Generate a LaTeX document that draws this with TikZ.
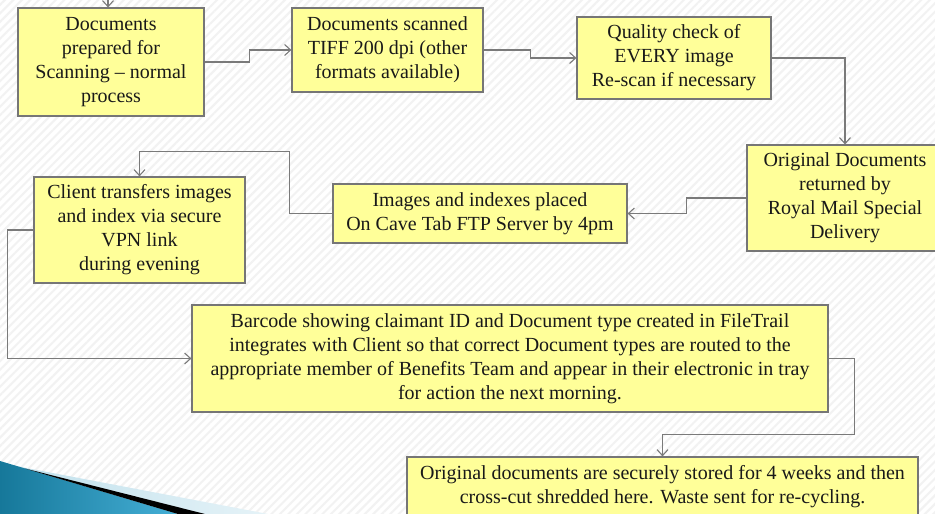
\documentclass[tikz,border=0pt]{standalone}
\usepackage{fontspec}
\setmainfont{Liberation Serif}
\usetikzlibrary{calc,patterns.meta,arrows.meta}
\definecolor{boxyellow}{HTML}{FFFF99}
\definecolor{boxline}{HTML}{767676}
\definecolor{swoosha}{HTML}{16789A}
\definecolor{swooshb}{HTML}{45AFD6}
\definecolor{swooshc}{HTML}{BFE0EC}
\tikzset{
	stepbox/.style={draw=boxline, line width=1.2pt, fill=boxyellow, align=center, inner sep=3pt, font=\fontsize{20}{24}\selectfont, text=black!90},
	flow/.style={draw=black!52, line width=1.3pt, -{Straight Barb[length=6pt, width=11pt, line width=1.1pt]}},
}

\begin{document}
\begin{tikzpicture}[x=1pt, y=-1pt]
		%%%%% START %%%%%
		\useasboundingbox (0, 0) rectangle (935, 514);
		\clip (0, 0) rectangle (935, 514);
		
		% striped slide background
		\fill[white] (0, 0) rectangle (935, 514);
		\fill[pattern={Lines[angle=45, distance=6pt, line width=2pt]}, pattern color=black!5] (0, 0) rectangle (935, 514);
		
		% swoosh in the corner
		\shade[left color=swooshc, right color=swooshc!40] (0, 463) -- (268, 514) -- (0, 514) -- cycle;
		\shade[left color=swoosha, right color=swooshb] (0, 461) -- (178, 514) -- (0, 514) -- cycle;
		\fill[black] (25, 468.5) -- (205, 514) -- (178, 514) -- cycle;
		
		% the steps
		\node[stepbox, minimum width=186, minimum height=108] (prep) at (111, 62) {Documents\\prepared for\\Scanning -- normal\\process};
		\node[stepbox, minimum width=191, minimum height=84] (scan) at (387.5, 50) {Documents scanned\\TIFF 200 dpi (other\\formats available)};
		\node[stepbox, minimum width=194, minimum height=82] (check) at (674, 58) {Quality check of\\EVERY image\\Re-scan if necessary};
		\node[stepbox, minimum width=196, minimum height=106] (returned) at (845, 198) {Original Documents\\returned by\\Royal Mail Special\\Delivery};
		\node[stepbox, minimum width=294, minimum height=59] (placed) at (480, 213.5) {Images and indexes placed\\On Cave Tab FTP Server by 4pm};
		\node[stepbox, minimum width=211, minimum height=106] (client) at (139.5, 230) {Client transfers images\\and index via secure\\VPN link\\during evening};
		\node[stepbox, minimum width=636, minimum height=107] (barcode) at (510, 358.5) {Barcode showing claimant ID and Document type created in FileTrail\\integrates with Client so that correct Document types are routed to the\\appropriate member of Benefits Team and appear in their electronic in tray\\for action the next morning.};
		\node[stepbox, minimum width=511, minimum height=60] (stored) at (662.5, 487) {Original documents are securely stored for 4 weeks and then\\cross-cut shredded here. Waste sent for re-cycling.};
		
		% connectors
		\coordinate (fromabove) at (108, -6);
		\draw[flow] (fromabove) -- (prep.north -| fromabove);
		\draw[flow] (prep.east) -- ++(45, 0) |- (scan.west);
		\draw[flow] (scan.east) -- ++(47, 0) |- (check.west);
		\draw[flow] (check.east) -| (returned.north);
		\draw[flow] (returned.west) -- ++(-60, 0) |- (placed.east);
		\draw[flow] (placed.west) -- ++(-43, 0) |- ($(client.north)+(0, -25)$) -- (client.north);
		\draw[flow] (client.west) -- ++(-26, 0) |- (barcode.west);
		\draw[flow] (barcode.east) -- ++(26, 0) -- ++(0, 76) -| (stored.north);
		
		%%%%% END %%%%%
\end{tikzpicture}
\end{document}
